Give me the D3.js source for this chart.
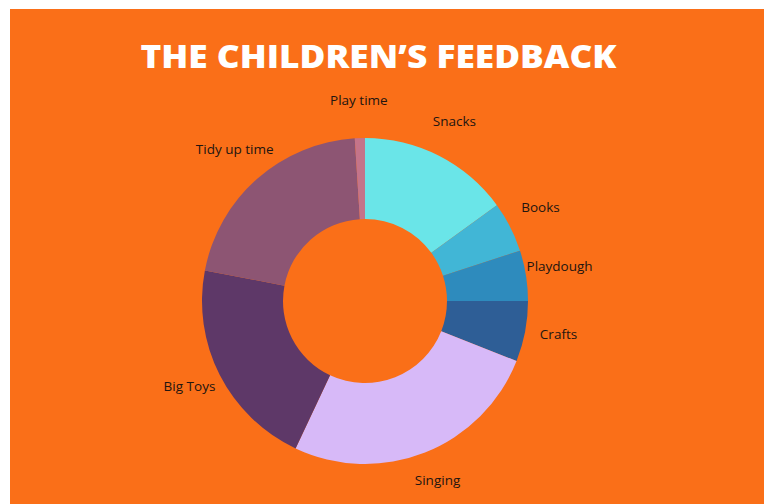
<!DOCTYPE html>
<html>
<head>
<meta charset="utf-8">
<script src="https://cdn.jsdelivr.net/npm/d3@7"></script>
<style>
  body { margin: 0; background: #fff; }
  svg { display: block; }
</style>
</head>
<body>
<div id="chart"></div>
<script>
// the feedback, in percent of answers
var categories = ["Snacks", "Books", "Playdough", "Crafts", "Singing", "Big Toys", "Tidy up time", "Play time"];
var values = [15, 5, 5, 6, 26, 21, 21, 1];
var colours = ["#6ae5e8", "#41b6d6", "#2e8bbd", "#2e5e96", "#d7b9f8", "#5e3868", "#8d5573", "#c4748a"];

var width = 764, height = 504;
var cx = 365, cy = 301;
var outer = 163, inner = 82, labelR = 197;

var svg = d3.select("#chart").append("svg")
    .attr("width", width)
    .attr("height", height);

svg.append("rect")
    .attr("x", 10).attr("y", 9)
    .attr("width", width - 10).attr("height", height - 9)
    .attr("fill", "#fa6f18");

svg.append("text")
    .attr("x", 378.5).attr("y", 68)
    .attr("text-anchor", "middle")
    .attr("textLength", 476)
    .attr("lengthAdjust", "spacingAndGlyphs")
    .style("font-family", "'Open Sans', sans-serif")
    .style("font-weight", 800)
    .style("font-size", "32px")
    .attr("fill", "#fff")
    .text("THE CHILDREN\u2019S FEEDBACK");

var data = categories.map(function (c, i) { return { name: c, value: values[i], colour: colours[i] }; });

var pie = d3.pie()
    .sort(null)
    .value(function (d) { return d.value; });

var arc = d3.arc().innerRadius(inner).outerRadius(outer);
var labelArc = d3.arc().innerRadius(labelR).outerRadius(labelR);

var g = svg.append("g")
    .attr("transform", "translate(" + cx + "," + cy + ")");

g.selectAll(".slice")
    .data(pie(data))
    .enter().append("path")
    .attr("class", "slice")
    .attr("d", arc)
    .attr("fill", function (d) { return d.data.colour; });

// labels sit with their baseline on the label ring
g.selectAll(".label")
    .data(pie(data))
    .enter().append("text")
    .attr("class", "label")
    .attr("transform", function (d) { return "translate(" + labelArc.centroid(d) + ")"; })
    .attr("text-anchor", "middle")
    .attr("dy", "0.05em")
    .style("font-family", "'Open Sans', sans-serif")
    .style("font-size", "13.5px")
    .attr("fill", "#221510")
    .text(function (d) { return d.data.name; });
</script>
</body>
</html>
